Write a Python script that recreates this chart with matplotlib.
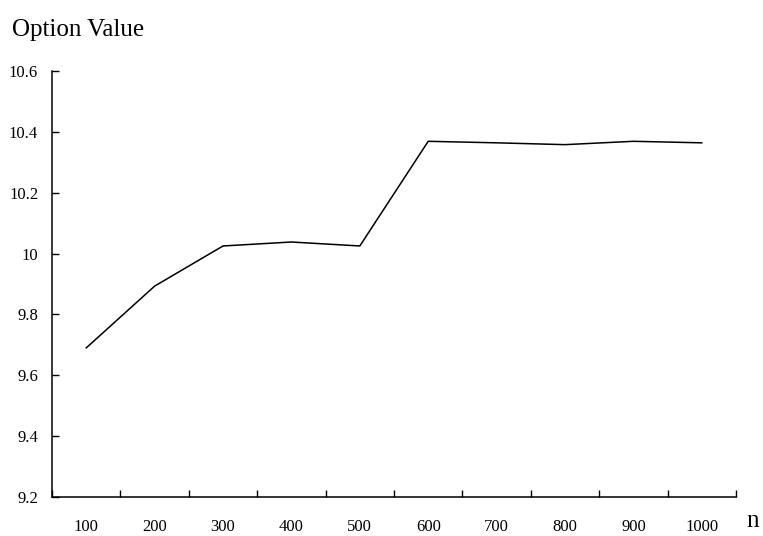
import matplotlib.pyplot as plt
from matplotlib.ticker import FixedLocator, NullFormatter

# 期權價值隨步數 n 的變化
n_labels = ['100', '200', '300', '400', '500', '600', '700', '800', '900', '1000']
option_value = [9.69, 9.893, 10.025, 10.038, 10.025, 10.369, 10.364, 10.358, 10.369, 10.364]

plt.rcParams['font.family'] = ['Liberation Serif', 'DejaVu Serif']

fig = plt.figure(figsize=(7.63, 5.36), dpi=100)
ax = fig.add_axes([0.0682, 0.0728, 0.8964, 0.7947])

x = list(range(len(n_labels)))
ax.plot(x, option_value, color='black', linewidth=1.1)

ax.set_xlim(-0.5, len(n_labels) - 0.5)
ax.set_ylim(9.2, 10.6)

# 刻度線畫在類別之間，標籤放在類別中央
ax.xaxis.set_major_locator(FixedLocator([i - 0.5 for i in range(len(n_labels) + 1)]))
ax.xaxis.set_major_formatter(NullFormatter())
ax.xaxis.set_minor_locator(FixedLocator(x))
ax.set_xticklabels(n_labels, minor=True)
ax.tick_params(axis='x', which='major', direction='in', length=5, width=1)
ax.tick_params(axis='x', which='minor', length=0, pad=16, labelsize=12)

yticks = [9.2, 9.4, 9.6, 9.8, 10.0, 10.2, 10.4, 10.6]
ax.set_yticks(yticks)
ax.set_yticklabels(['9.2', '9.4', '9.6', '9.8', '10', '10.2', '10.4', '10.6'])
ax.tick_params(axis='y', direction='in', length=5, width=1, pad=10, labelsize=12)

for side in ['top', 'right']:
    ax.spines[side].set_visible(False)
for side in ['left', 'bottom']:
    ax.spines[side].set_linewidth(1.1)

fig.text(12 / 763, 1 - 30 / 536, 'Option Value', fontsize=18, ha='left', va='center')
fig.text(746 / 763, 1 - 521 / 536, 'n', fontsize=18, ha='left', va='center')

fig.savefig('out.png', dpi=100)
